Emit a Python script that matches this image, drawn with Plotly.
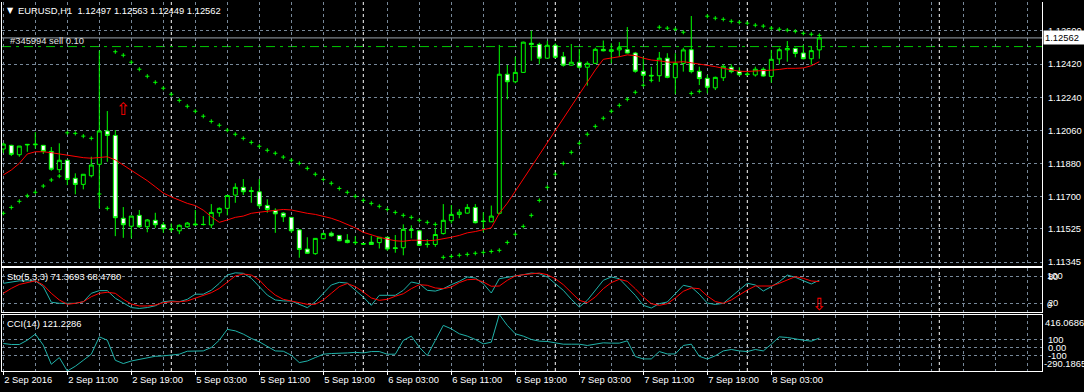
import plotly.graph_objects as go

# ---------------- data ----------------
bar_index = list(range(103))

opens = [1.11959, 1.11979, 1.11928, 1.11981, 1.11982, 1.11979, 1.11946, 1.11847, 1.11898, 1.11800,
         1.11767, 1.11814, 1.11876, 1.12057, 1.12033, 1.11583, 1.11540, 1.11599, 1.11537, 1.11572,
         1.11548, 1.11525, 1.11515, 1.11537, 1.11552, 1.11550, 1.11547, 1.11613, 1.11637, 1.11709,
         1.11751, 1.11733, 1.11727, 1.11653, 1.11626, 1.11611, 1.11588, 1.11520, 1.11416, 1.11391,
         1.11472, 1.11502, 1.11490, 1.11464, 1.11453, 1.11446, 1.11453, 1.11451, 1.11480, 1.11423,
         1.11423, 1.11517, 1.11515, 1.11443, 1.11441, 1.11500, 1.11570, 1.11604, 1.11611, 1.11642,
         1.11568, 1.11564, 1.11610, 1.12365, 1.12324, 1.12375, 1.12533, 1.12527, 1.12452, 1.12522,
         1.12460, 1.12414, 1.12430, 1.12403, 1.12424, 1.12500, 1.12489, 1.12497, 1.12498, 1.12480,
         1.12381, 1.12359, 1.12357, 1.12452, 1.12346, 1.12424, 1.12498, 1.12381, 1.12343, 1.12291,
         1.12346, 1.12403, 1.12381, 1.12366, 1.12361, 1.12392, 1.12353, 1.12448, 1.12497, 1.12505,
         1.12480, 1.12449, 1.12497]

highs = [1.11992, 1.11982, 1.11975, 1.11985, 1.12051, 1.11981, 1.11970, 1.11990, 1.11899, 1.11827,
         1.11823, 1.11917, 1.12493, 1.12165, 1.12062, 1.11644, 1.11595, 1.11628, 1.11579, 1.11613,
         1.11563, 1.11555, 1.11550, 1.11563, 1.11628, 1.11595, 1.11660, 1.11642, 1.11709, 1.11773,
         1.11796, 1.11754, 1.11796, 1.11686, 1.11637, 1.11616, 1.11589, 1.11522, 1.11480, 1.11476,
         1.11506, 1.11511, 1.11492, 1.11497, 1.11486, 1.11448, 1.11488, 1.11481, 1.11481, 1.11492,
         1.11550, 1.11545, 1.11520, 1.11470, 1.11531, 1.11660, 1.11655, 1.11633, 1.11660, 1.11660,
         1.11616, 1.11652, 1.12524, 1.12415, 1.12460, 1.12542, 1.12601, 1.12536, 1.12547, 1.12533,
         1.12486, 1.12529, 1.12502, 1.12435, 1.12509, 1.12548, 1.12533, 1.12539, 1.12621, 1.12486,
         1.12460, 1.12406, 1.12486, 1.12479, 1.12479, 1.12509, 1.12681, 1.12406, 1.12361, 1.12352,
         1.12419, 1.12419, 1.12403, 1.12379, 1.12406, 1.12403, 1.12497, 1.12509, 1.12545, 1.12509,
         1.12524, 1.12518, 1.12563]

lows = [1.11937, 1.11921, 1.11917, 1.11944, 1.11961, 1.11932, 1.11841, 1.11830, 1.11763, 1.11713,
        1.11740, 1.11805, 1.11637, 1.11890, 1.11486, 1.11477, 1.11474, 1.11531, 1.11507, 1.11531,
        1.11504, 1.11507, 1.11497, 1.11531, 1.11544, 1.11544, 1.11530, 1.11591, 1.11599, 1.11667,
        1.11709, 1.11667, 1.11639, 1.11613, 1.11504, 1.11563, 1.11504, 1.11369, 1.11389, 1.11385,
        1.11470, 1.11483, 1.11459, 1.11447, 1.11438, 1.11438, 1.11440, 1.11419, 1.11407, 1.11396,
        1.11382, 1.11474, 1.11434, 1.11424, 1.11428, 1.11495, 1.11555, 1.11583, 1.11608, 1.11555,
        1.11507, 1.11563, 1.11604, 1.12229, 1.12316, 1.12372, 1.12438, 1.12419, 1.12451, 1.12452,
        1.12406, 1.12412, 1.12395, 1.12303, 1.12420, 1.12489, 1.12424, 1.12460, 1.12478, 1.12373,
        1.12324, 1.12327, 1.12324, 1.12343, 1.12257, 1.12379, 1.12370, 1.12306, 1.12261, 1.12279,
        1.12328, 1.12370, 1.12355, 1.12355, 1.12352, 1.12352, 1.12319, 1.12419, 1.12433, 1.12457,
        1.12446, 1.12417, 1.12449]

closes = [1.11986, 1.11930, 1.11975, 1.11984, 1.11985, 1.11946, 1.11849, 1.11898, 1.11794, 1.11767,
          1.11822, 1.11872, 1.12057, 1.12033, 1.11586, 1.11548, 1.11595, 1.11537, 1.11574, 1.11548,
          1.11526, 1.11522, 1.11545, 1.11557, 1.11548, 1.11549, 1.11615, 1.11637, 1.11707, 1.11751,
          1.11727, 1.11729, 1.11651, 1.11631, 1.11607, 1.11591, 1.11515, 1.11414, 1.11393, 1.11474,
          1.11500, 1.11488, 1.11461, 1.11451, 1.11451, 1.11443, 1.11441, 1.11480, 1.11416, 1.11419,
          1.11523, 1.11521, 1.11436, 1.11441, 1.11495, 1.11572, 1.11604, 1.11616, 1.11642, 1.11559,
          1.11566, 1.11595, 1.12365, 1.12324, 1.12375, 1.12539, 1.12526, 1.12452, 1.12522, 1.12457,
          1.12414, 1.12430, 1.12403, 1.12424, 1.12500, 1.12492, 1.12498, 1.12509, 1.12480, 1.12381,
          1.12359, 1.12356, 1.12452, 1.12348, 1.12424, 1.12497, 1.12379, 1.12341, 1.12294, 1.12348,
          1.12408, 1.12379, 1.12362, 1.12364, 1.12392, 1.12355, 1.12446, 1.12498, 1.12505, 1.12478,
          1.12449, 1.12493, 1.12562]

ma_values = [1.11818, 1.11845, 1.11881, 1.11932, 1.11944, 1.11944, 1.11939, 1.11932, 1.11926, 1.11921,
             1.11912, 1.11909, 1.11915, 1.11917, 1.11900, 1.11872, 1.11845, 1.11818, 1.11787, 1.11754,
             1.11720, 1.11699, 1.11682, 1.11664, 1.11652, 1.11627, 1.11591, 1.11561, 1.11574, 1.11588,
             1.11595, 1.11610, 1.11616, 1.11620, 1.11628, 1.11631, 1.11628, 1.11618, 1.11610, 1.11604,
             1.11595, 1.11583, 1.11568, 1.11550, 1.11531, 1.11507, 1.11492, 1.11480, 1.11470, 1.11461,
             1.11458, 1.11464, 1.11464, 1.11461, 1.11464, 1.11470, 1.11480, 1.11490, 1.11504, 1.11511,
             1.11523, 1.11531, 1.11610, 1.11665, 1.11730, 1.11796, 1.11861, 1.11926, 1.11992, 1.12062,
             1.12127, 1.12192, 1.12257, 1.12323, 1.12388, 1.12446, 1.12452, 1.12460, 1.12470, 1.12466,
             1.12452, 1.12442, 1.12438, 1.12431, 1.12430, 1.12433, 1.12427, 1.12421, 1.12415, 1.12406,
             1.12397, 1.12387, 1.12381, 1.12380, 1.12381, 1.12384, 1.12387, 1.12391, 1.12397, 1.12397,
             1.12399, 1.12411, 1.12433]

sar_values = [1.11610, 1.11642, 1.11675, 1.11705, 1.11724, 1.11758, 1.11791, 1.11812, 1.12047, 1.12044,
              1.12029, 1.12017, 1.11715, 1.11637, 1.12487, 1.12468, 1.12430, 1.12392, 1.12354, 1.12321,
              1.12289, 1.12256, 1.12223, 1.12191, 1.12164, 1.12137, 1.12109, 1.12088, 1.12061, 1.12039,
              1.12017, 1.11995, 1.11974, 1.11952, 1.11936, 1.11915, 1.11898, 1.11881, 1.11854, 1.11822,
              1.11794, 1.11773, 1.11745, 1.11724, 1.11702, 1.11680, 1.11664, 1.11648, 1.11631, 1.11615,
              1.11599, 1.11588, 1.11572, 1.11561, 1.11550, 1.11371, 1.11376, 1.11382, 1.11387, 1.11393,
              1.11398, 1.11403, 1.11409, 1.11452, 1.11496, 1.11539, 1.11599, 1.11680, 1.11751, 1.11822,
              1.11881, 1.11941, 1.11990, 1.12039, 1.12082, 1.12126, 1.12164, 1.12196, 1.12229, 1.12267,
              1.12305, 1.12332, 1.12620, 1.12615, 1.12609, 1.12593, 1.12261, 1.12272, 1.12680, 1.12669,
              1.12663, 1.12652, 1.12647, 1.12642, 1.12631, 1.12626, 1.12615, 1.12609, 1.12604, 1.12598,
              1.12587, 1.12582, 1.12576]

stoch_main = [64.5, 68, 70, 70, 70, 57, 22, 19.5, 19.5, 19.5,
              23, 42, 48, 48, 31, 19.5, 10, 8, 10, 14,
              23, 25, 23, 28.5, 40, 40, 49, 64.5, 83, 88,
              87, 75.7, 57, 38, 27, 25, 24.7, 17.3, 9.7, 23,
              42, 60.7, 66.7, 65, 49, 33.7, 15, 37.5, 37.5, 37.5,
              48.7, 67.4, 63.7, 48.7, 47, 52.4, 61.4, 69, 78.7, 76.4,
              63.7, 42.7, 74.8, 78.7, 81, 83.8, 87.6, 86, 78.7, 63.7,
              48.7, 28.5, 11.2, 26.2, 48.7, 71.2, 78.7, 74.8, 56.2, 37.5,
              15, 9, 18.7, 22.5, 41, 60, 56.2, 40, 20, 17,
              19.5, 34.4, 49.4, 64.5, 60.7, 47.2, 57, 68, 83, 78,
              70.3, 63, 71.3693]

stoch_signal = [42, 53, 62, 66.7, 70, 60.7, 42, 27, 17.3, 19.5,
                23, 34.4, 42, 44.3, 42, 28.5, 18, 13.5, 13.5, 15.7,
                21, 23, 23, 25, 30.7, 36, 43.4, 53, 68, 81,
                85.4, 83, 72, 53, 38, 28.5, 24.7, 21, 17.3, 17.3,
                27, 42, 57, 64, 57, 45, 31.5, 26.2, 28.5, 35.3,
                41, 52.4, 61.4, 60, 54, 52.4, 56.2, 66, 72.6, 73.5,
                67.4, 57.8, 58.4, 71.2, 81, 83.8, 86, 87.6, 83.8, 74.8,
                61.4, 42.7, 26.2, 21, 33.7, 52.4, 66, 73.5, 69, 52.4,
                33.7, 18.7, 15, 18.7, 31.5, 46.5, 54, 52.4, 36, 23.5,
                19.5, 27, 38, 49.4, 58.4, 58.4, 58.4, 64.5, 72, 79.4,
                75.7, 69.7, 68.4780]

cci_values = [54, 41, 41, 95, 171, 33, -206, -122, -290.1865, -231,
              -156, -80, 137, 95, -156, -197, -165, -143, -127, -106,
              -101, -93, -80, -43, -43, -39, 4, 95, 230, 212,
              171, 117, 74, 20, -39, -43, -93, -185, -165, -122,
              -80, -72, -72, -64, -57, -64, -47, -47, -80, -80,
              92, 146, 8, -97, 92, 280, 237, 175, 146, 104,
              49, 70, 416.0686, 280, 175, 146, 104, 83, 79, 58,
              45, 45, 45, 29, 49, 62, 58, 58, 87, -109,
              -139, -139, -47, -77, -77, 29, 45, -106, -141, -100,
              -39, -21, -39, -47, -21, -39, 45, 137, 129, 108,
              95, 83, 121.2286]

time_label_bars = [0, 8, 16, 24, 32, 40, 48, 56, 64, 72, 80, 88, 96]
time_labels = ["2 Sep 2016", "2 Sep 11:00", "2 Sep 19:00", "5 Sep 03:00", "5 Sep 11:00",
               "5 Sep 19:00", "6 Sep 03:00", "6 Sep 11:00", "6 Sep 19:00", "7 Sep 03:00",
               "7 Sep 11:00", "7 Sep 19:00", "8 Sep 03:00"]
day_separator_bars = [21, 45, 69, 93, 117]

price_ticks = [1.12600, 1.12420, 1.12240, 1.12060, 1.11880, 1.11700, 1.11525, 1.11345]
stoch_levels = [80, 20]
cci_levels = [100, 0, -100]
cci_level_labels = ["100", "0.00", "-100"]

symbol_name = "EURUSD,H1"
order_label = "#345994 sell 0.10"
order_price = 1.12515
up_arrow_bar, up_arrow_price = 15, 1.12176
down_arrow_bar, down_arrow_level = 102, 19

# ---------------- styling ----------------
FONT = "Liberation Sans"
FS = 9.4
GRID = "#778899"
LIME = "#00FF00"
TEAL = "#20B2AA"
DASH = "3px,3px"
W, H = 1084, 392
ML, MR, MT, MB = 2, 42, 2, 21
PH = H - MT - MB

def py(ypx):
    return (H - MB - ypx) / PH

def px(xpx):
    return (xpx - ML) / (W - ML - MR)

x_range = [-0.1625, -0.1625 + (W - ML - MR) / 8.0]

fig = go.Figure()

fig.add_trace(go.Candlestick(
    x=bar_index, open=opens, high=highs, low=lows, close=closes,
    xaxis="x3", yaxis="y3", whiskerwidth=0,
    increasing=dict(line=dict(color=LIME, width=1), fillcolor="black"),
    decreasing=dict(line=dict(color=LIME, width=1), fillcolor="white"),
    hoverinfo="skip", showlegend=False))

fig.add_trace(go.Scatter(x=bar_index, y=ma_values, mode="lines",
                         line=dict(color="#FF0000", width=1),
                         xaxis="x3", yaxis="y3", hoverinfo="skip", showlegend=False))

fig.add_trace(go.Scatter(x=bar_index, y=sar_values, mode="markers",
                         marker=dict(symbol="cross-thin", size=3, color=LIME,
                                     line=dict(color=LIME, width=1)),
                         xaxis="x3", yaxis="y3", hoverinfo="skip", showlegend=False))

fig.add_trace(go.Scatter(x=bar_index, y=stoch_main, mode="lines",
                         line=dict(color=TEAL, width=1),
                         xaxis="x2", yaxis="y2", hoverinfo="skip", showlegend=False))
fig.add_trace(go.Scatter(x=bar_index, y=stoch_signal, mode="lines",
                         line=dict(color="#FF0000", width=1),
                         xaxis="x2", yaxis="y2", hoverinfo="skip", showlegend=False))

fig.add_trace(go.Scatter(x=bar_index, y=cci_values, mode="lines",
                         line=dict(color=TEAL, width=1),
                         xaxis="x", yaxis="y", hoverinfo="skip", showlegend=False))

grid = dict(showgrid=True, gridcolor=GRID, griddash=DASH, gridwidth=1, zeroline=False)
frame = dict(showline=True, linecolor="white", linewidth=1)
tickfont = dict(family=FONT, size=FS, color="white")

fig.update_layout(
    width=W, height=H,
    margin=dict(l=ML, r=MR, t=MT, b=MB),
    paper_bgcolor="black", plot_bgcolor="black",
    showlegend=False,
    xaxis=dict(domain=[0, 1], anchor="y", range=x_range,
               tickmode="array", tickvals=time_label_bars, ticktext=time_labels,
               ticklabelposition="outside right", ticks="outside", ticklen=3,
               tickcolor="white", tickfont=tickfont,
               minor=dict(tickmode="linear", tick0=0, dtick=4, showgrid=True,
                          gridcolor=GRID, griddash=DASH, ticks=""),
               mirror=True, **grid, **frame),
    xaxis2=dict(domain=[0, 1], anchor="y2", matches="x", tickmode="linear", tick0=0, dtick=4,
                showticklabels=False, ticks="", mirror=True, **grid, **frame),
    xaxis3=dict(domain=[0, 1], anchor="y3", matches="x", tickmode="linear", tick0=0, dtick=4,
                showticklabels=False, ticks="", mirror=False,
                rangeslider=dict(visible=False), **grid, **frame),
    yaxis=dict(domain=[0, py(314.5)], anchor="x", side="right",
               range=[min(cci_values), max(cci_values)],
               tickmode="array", tickvals=cci_levels, ticktext=cci_level_labels,
               ticks="outside", ticklen=3, tickcolor="black", tickfont=tickfont,
               mirror=True, **grid, **frame),
    yaxis2=dict(domain=[py(312), py(267.5)], anchor="x2", side="right", range=[0, 100],
                tickmode="array", tickvals=stoch_levels, ticktext=[str(v) for v in stoch_levels],
                ticks="outside", ticklen=3, tickcolor="black", tickfont=tickfont,
                mirror=True, **grid, **frame),
    yaxis3=dict(domain=[py(266), 1], anchor="x3", side="right", range=[1.11324, 1.12757],
                tickmode="array", tickvals=price_ticks, ticktext=[f"{v:.5f}" for v in price_ticks],
                ticks="outside", ticklen=3, tickcolor="black", tickfont=tickfont,
                mirror=True, **grid, **frame),
)

shapes = []
for b in day_separator_bars:
    shapes.append(dict(type="line", xref="x", yref="paper", x0=b, x1=b, y0=0, y1=1,
                       line=dict(color="white", width=1, dash=DASH), layer="below"))
shapes.append(dict(type="line", xref="x3 domain", yref="y3", x0=0, x1=1,
                   y0=closes[-1], y1=closes[-1], line=dict(color="#9AA4AE", width=1), layer="below"))
shapes.append(dict(type="line", xref="x3 domain", yref="y3", x0=0, x1=1,
                   y0=order_price, y1=order_price,
                   line=dict(color="#00C800", width=1, dash="9px,5px,3px,5px"), layer="below"))
fig.update_layout(shapes=shapes)

ann = []
def text(x, y, s, color="white", xanchor="left", yanchor="middle", size=FS, family=FONT, **kw):
    d = dict(x=x, y=y, text=s, showarrow=False, xanchor=xanchor, yanchor=yanchor,
             font=dict(family=family, size=size, color=color), borderpad=0)
    d.setdefault("xref", "paper"); d.setdefault("yref", "paper")
    d.update(kw)
    ann.append(d)

text(px(10), py(10.5), "▼", xanchor="center", size=8, family="DejaVu Sans")
text(px(17), py(10.5),
     f"{symbol_name}  {opens[-1]:.5f} {highs[-1]:.5f} {lows[-1]:.5f} {closes[-1]:.5f}")
text(px(9), py(40.5), order_label, color="#E0E0E0")
text(px(6), py(276), f"Sto(5,3,3) {stoch_main[-1]:.4f} {stoch_signal[-1]:.4f}")
text(px(6), py(323.5), f"CCI(14) {cci_values[-1]:.4f}")

# right-side price box for the last close
ann.append(dict(xref="paper", yref="y3", x=1, y=closes[-1], xanchor="left", yanchor="middle",
                xshift=1, text=f"{closes[-1]:.5f}", showarrow=False, bgcolor="white",
                borderpad=1, width=40, align="left",
                font=dict(family=FONT, size=FS, color="black")))

# stochastic extreme labels
ann.append(dict(xref="paper", yref="y2", x=1, y=100, xanchor="left", yanchor="top", xshift=3,
                text="100", showarrow=False, font=tickfont))
ann.append(dict(xref="paper", yref="y2", x=1, y=0, xanchor="left", yanchor="bottom", xshift=3,
                text="0", showarrow=False, font=tickfont))
# CCI extreme labels
ann.append(dict(xref="paper", yref="y", x=1, y=max(cci_values), xanchor="left", yanchor="top",
                xshift=1, text=f"{max(cci_values):.4f}", showarrow=False, font=tickfont))
ann.append(dict(xref="paper", yref="y", x=1, y=min(cci_values), xanchor="left", yanchor="bottom",
                xshift=0, text=f"{min(cci_values):.4f}", showarrow=False, font=tickfont))

# arrows
ann.append(dict(xref="x3", yref="y3", x=up_arrow_bar, y=up_arrow_price, text="⇧", showarrow=False,
                font=dict(family="DejaVu Sans", size=17, color="#FF0000")))
ann.append(dict(xref="x2", yref="y2", x=down_arrow_bar, y=down_arrow_level, text="⇩", showarrow=False,
                font=dict(family="DejaVu Sans", size=17, color="#FF0000")))

fig.update_layout(annotations=ann)

fig.write_html("out.html", config={"displayModeBar": False})
